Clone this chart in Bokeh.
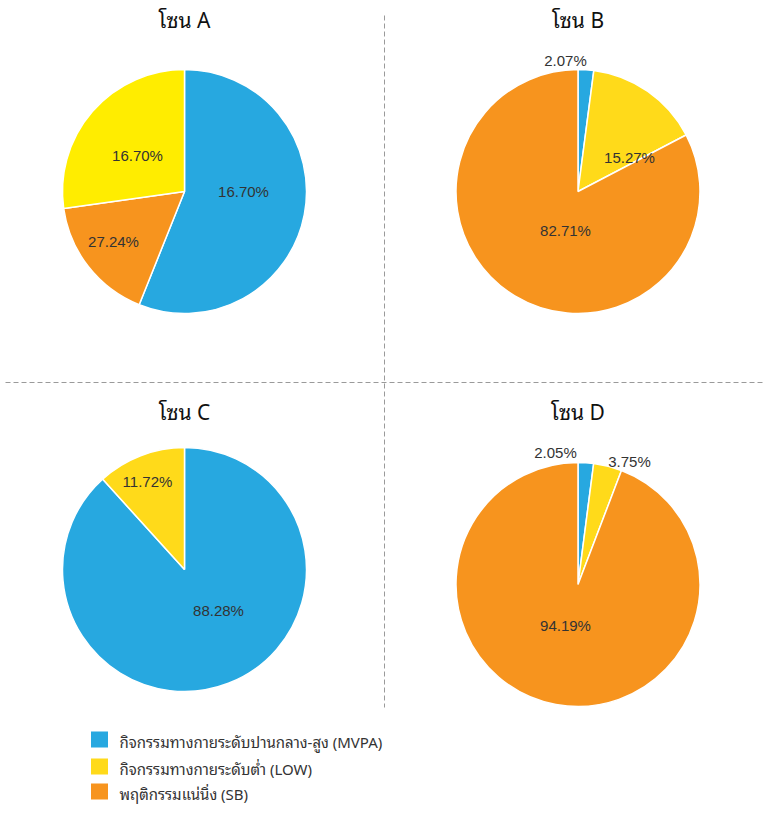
import math
from bokeh.plotting import figure
from bokeh.models import Range1d, ColumnDataSource
from bokeh.core.properties import value
from bokeh.embed import file_html
from bokeh.resources import INLINE

# ---------------- data ----------------
legend_labels = ["กิจกรรมทางกายระดับปานกลาง-สูง (MVPA)",
                 "กิจกรรมทางกายระดับต่ำ (LOW)",
                 "พฤติกรรมแน่นิ่ง (SB)"]
titles = ["โซน A", "โซน B", "โซน C", "โซน D"]

# slices in clockwise order starting at 12 o'clock
zone_a_cats = ["MVPA", "SB", "LOW"]
zone_a_values = [56.06, 16.70, 27.24]
zone_a_labels = ["16.70%", "27.24%", "16.70%"]

zone_b_cats = ["MVPA", "LOW", "SB"]
zone_b_values = [2.07, 15.27, 82.71]
zone_b_labels = ["2.07%", "15.27%", "82.71%"]

zone_c_cats = ["MVPA", "LOW"]
zone_c_values = [88.28, 11.72]
zone_c_labels = ["88.28%", "11.72%"]

zone_d_cats = ["MVPA", "LOW", "SB"]
zone_d_values = [2.05, 3.75, 94.19]
zone_d_labels = ["2.05%", "3.75%", "94.19%"]

# ---------------- style / layout ----------------
W, H = 764, 805
colors = {"MVPA": "#27A8E0", "LOW": "#FFDA1A", "SB": "#F7941E"}
colors_a = {"MVPA": "#27A8E0", "LOW": "#FFED00", "SB": "#F7941E"}

def Y(px):
    return H - px

R = 122
layout = [
    dict(cx=184, cy=191, ty=18, cats=zone_a_cats, vals=zone_a_values, labs=zone_a_labels, col=colors_a,
         lpos=[(243, 191), (113, 241), (137, 155)]),
    dict(cx=577.5, cy=191, ty=18, cats=zone_b_cats, vals=zone_b_values, labs=zone_b_labels, col=colors,
         lpos=[(565, 60), (629, 157), (565, 230)]),
    dict(cx=184, cy=569, ty=410, cats=zone_c_cats, vals=zone_c_values, labs=zone_c_labels, col=colors,
         lpos=[(218, 610), (147, 481)]),
    dict(cx=577.5, cy=584, ty=410, cats=zone_d_cats, vals=zone_d_values, labs=zone_d_labels, col=colors,
         lpos=[(555, 452), (629, 461), (565, 625)]),
]

p = figure(width=W, height=H, output_backend="svg", toolbar_location=None,
           x_range=Range1d(0, W), y_range=Range1d(0, H),
           min_border=0, outline_line_color=None)
p.axis.visible = False
p.grid.visible = False
p.background_fill_color = "white"
p.border_fill_color = "white"

# dashed dividers
p.line(x=[384, 384], y=[Y(15), Y(707)], line_color="#9a9a9a", line_dash="5 3", line_width=1)
p.line(x=[5, W], y=[Y(382), Y(382)], line_color="#9a9a9a", line_dash="5 3", line_width=1)

num_font = value("Liberation Sans")
thai_font = value("'Noto Sans Thai Looped', Loma, Garuda, 'Noto Sans'")

for z, title in zip(layout, titles):
    total = sum(z["vals"])
    starts, ends, fills = [], [], []
    acc = 0.0
    for c, v in zip(z["cats"], z["vals"]):
        t1 = acc / total * 2 * math.pi
        acc += v
        t2 = acc / total * 2 * math.pi
        starts.append(math.pi / 2 - t2)
        ends.append(math.pi / 2 - t1)
        fills.append(z["col"][c])
    src = ColumnDataSource(dict(x=[z["cx"]] * len(starts), y=[Y(z["cy"])] * len(starts),
                                s=starts, e=ends, f=fills))
    p.wedge(x="x", y="y", radius=R, start_angle="s", end_angle="e", fill_color="f",
            line_color="white", line_width=1.5, source=src)
    lx = [a for a, b in z["lpos"]]
    ly = [Y(b) for a, b in z["lpos"]]
    p.text(x=lx, y=ly, text=z["labs"], text_font=num_font, text_font_size="15px",
           text_color="#333333", text_align="center", text_baseline="middle")
    p.text(x=[z["cx"]], y=[Y(z["ty"])], text=[title], text_font=thai_font, text_font_size="21px",
           text_font_style="normal", text_color="#111111", text_align="center", text_baseline="middle")

# legend
leg_y = [739, 766, 791]
leg_c = ["MVPA", "LOW", "SB"]
p.rect(x=[99] * 3, y=[Y(v) for v in leg_y], width=17, height=16,
       fill_color=[colors[c] for c in leg_c], line_color=None)
p.text(x=[119] * 3, y=[Y(v + 1) for v in leg_y], text=legend_labels, text_font=thai_font,
       text_font_size="15px", text_color="#333333", text_align="left", text_baseline="middle")

open("out.html", "w").write(file_html(p, INLINE))
